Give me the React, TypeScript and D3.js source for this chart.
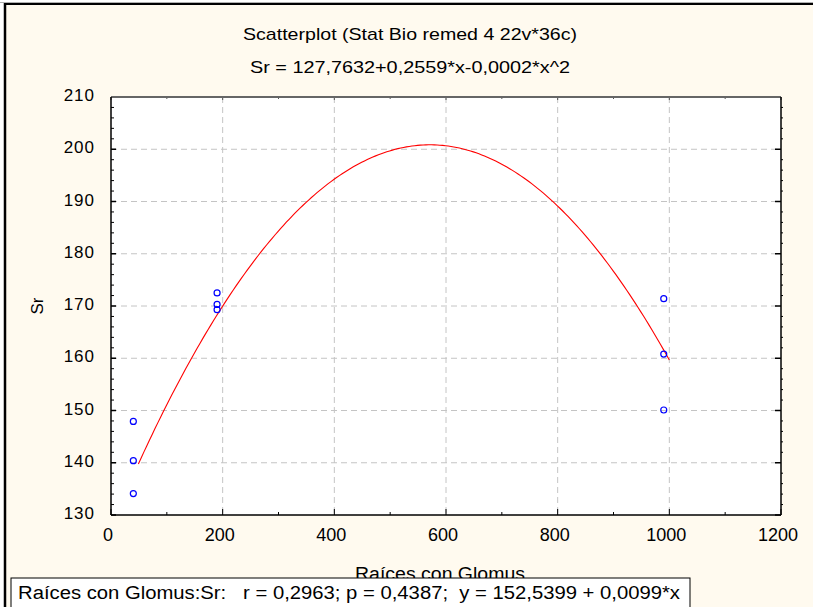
import React from "react";
import * as d3 from "d3";

const W = 813;
const H = 607;

const rootsX = [40, 40, 40, 190, 190, 190, 990, 990, 990];
const srValues = [147.9, 140.4, 134.1, 172.5, 170.3, 169.3, 171.4, 160.8, 150.1];

const fitCoefs = [127.7632, 0.2559, -0.000224];
const fitRange = [49, 1000];

const xTicks = [0, 200, 400, 600, 800, 1000, 1200];
const yTicks = [130, 140, 150, 160, 170, 180, 190, 200, 210];
const xGrid = [200, 400, 600, 800, 1000];
const yGrid = [140, 150, 160, 170, 180, 190, 200];

const titleText = "Scatterplot (Stat Bio remed 4 22v*36c)";
const subtitleText = "Sr = 127,7632+0,2559*x-0,0002*x^2";
const xLabel = "Raíces con Glomus";
const yLabel = "Sr";
const legendText = "Raíces con Glomus:Sr:   r = 0,2963; p = 0,4387;  y = 152,5399 + 0,0099*x";

const FONT = "'Liberation Sans Narrow', 'Liberation Sans', Arial, sans-serif";
const FONT2 = "'Liberation Sans', Arial, sans-serif";

export default function App() {
  const left = 111, right = 781, top = 97, bottom = 515;
  const x = d3.scaleLinear().domain([0, 1200]).range([left, right]);
  const y = d3.scaleLinear().domain([130, 210]).range([bottom, top]);

  const curvePts = d3.range(fitRange[0], fitRange[1] + 0.001, 5).map((v) => [v, fitCoefs[0] + fitCoefs[1] * v + fitCoefs[2] * v * v] as [number, number]);
  curvePts.push([fitRange[1], fitCoefs[0] + fitCoefs[1] * fitRange[1] + fitCoefs[2] * fitRange[1] * fitRange[1]]);
  const line = d3.line<[number, number]>().x((d) => x(d[0])).y((d) => y(d[1]));

  const yMinor = d3.range(130, 210.001, 2);
  const xMinor = d3.range(0, 1200.001, 100);

  return (
    <svg width={W} height={H} style={{ position: "absolute", left: 0, top: 0 }} xmlns="http://www.w3.org/2000/svg">
      <rect x={0} y={0} width={W} height={H} fill="#ffffff" />
      <rect x={5} y={4} width={W - 5} height={H - 4} fill="#fffaef" />
      <line x1={0} x2={W} y1={2.5} y2={2.5} stroke="#b0b0b0" strokeWidth={1} />
      <line x1={4} x2={W} y1={4} y2={4} stroke="#000" strokeWidth={2} />
      <line x1={5} x2={5} y1={3} y2={H} stroke="#000" strokeWidth={2.5} />

      <text x={410} y={40} fontFamily={FONT} fontSize={17} textAnchor="middle" textLength={334} lengthAdjust="spacingAndGlyphs" fill="#000">{titleText}</text>
      <text x={410} y={73} fontFamily={FONT} fontSize={17} textAnchor="middle" textLength={320} lengthAdjust="spacingAndGlyphs" fill="#000">{subtitleText}</text>

      <rect x={left} y={top} width={right - left} height={bottom - top} fill="#ffffff" />

      {xGrid.map((v) => (
        <line key={"xg" + v} x1={x(v)} x2={x(v)} y1={top} y2={bottom} stroke="#c4c4c4" strokeWidth={1} strokeDasharray="6,4" />
      ))}
      {yGrid.map((v) => (
        <line key={"yg" + v} x1={left} x2={right} y1={y(v)} y2={y(v)} stroke="#c4c4c4" strokeWidth={1} strokeDasharray="6,4" />
      ))}

      {yMinor.map((v) => {
        const major = v % 10 === 0;
        return (
          <g key={"ym" + v}>
            <line x1={left} x2={left + (major ? 5 : 3)} y1={y(v)} y2={y(v)} stroke="#000" strokeWidth={major ? 1.5 : 1} />
            <line x1={right - (major ? 6 : 0)} x2={right + (major ? 0 : 2)} y1={y(v)} y2={y(v)} stroke="#000" strokeWidth={major ? 1.5 : 1} />
          </g>
        );
      })}
      {xMinor.map((v) => {
        const major = v % 200 === 0;
        return (
          <g key={"xm" + v}>
            <line x1={x(v)} x2={x(v)} y1={bottom} y2={bottom - (major ? 6 : 3)} stroke="#000" strokeWidth={1} />
            <line x1={x(v)} x2={x(v)} y1={top} y2={top + (major ? 3 : 2)} stroke="#555" strokeWidth={1} />
          </g>
        );
      })}

      <line x1={left} x2={right} y1={top} y2={top} stroke="#666" strokeWidth={2} />
      <line x1={left} x2={right} y1={bottom} y2={bottom} stroke="#000" strokeWidth={1.5} />
      <line x1={left} x2={left} y1={top} y2={bottom} stroke="#000" strokeWidth={1.5} />
      <line x1={right} x2={right} y1={top} y2={bottom} stroke="#000" strokeWidth={1.5} />

      <path d={line(curvePts) || ""} fill="none" stroke="#ff0000" strokeWidth={1.1} />

      {rootsX.map((v, i) => (
        <circle key={"p" + i} cx={x(v)} cy={y(srValues[i])} r={3} fill="none" stroke="#0000ff" strokeWidth={1.2} />
      ))}

      {yTicks.map((v) => (
        <text key={"yt" + v} x={95} y={y(v) + 4} fontFamily={FONT2} fontSize={17} textAnchor="end" fill="#000" letterSpacing={1}>{v}</text>
      ))}
      {xTicks.map((v) => (
        <text key={"xt" + v} x={x(v) - 3} y={541} fontFamily={FONT} fontSize={18} textAnchor="middle" fill="#000">{v}</text>
      ))}

      <text x={0} y={0} transform={`translate(43,306) rotate(-90)`} fontFamily={FONT2} fontSize={17} textAnchor="middle" fill="#000">{yLabel}</text>
      <text x={440} y={580} fontFamily={FONT} fontSize={18} textAnchor="middle" textLength={170} lengthAdjust="spacingAndGlyphs" fill="#000">{xLabel}</text>

      <rect x={11} y={578} width={679} height={40} fill="#ffffff" stroke="#000" strokeWidth={1} />
      <text x={18} y={599} fontFamily={FONT} fontSize={18} textLength={662} lengthAdjust="spacingAndGlyphs" fill="#000" style={{ whiteSpace: "pre" }}>{legendText}</text>
    </svg>
  );
}
